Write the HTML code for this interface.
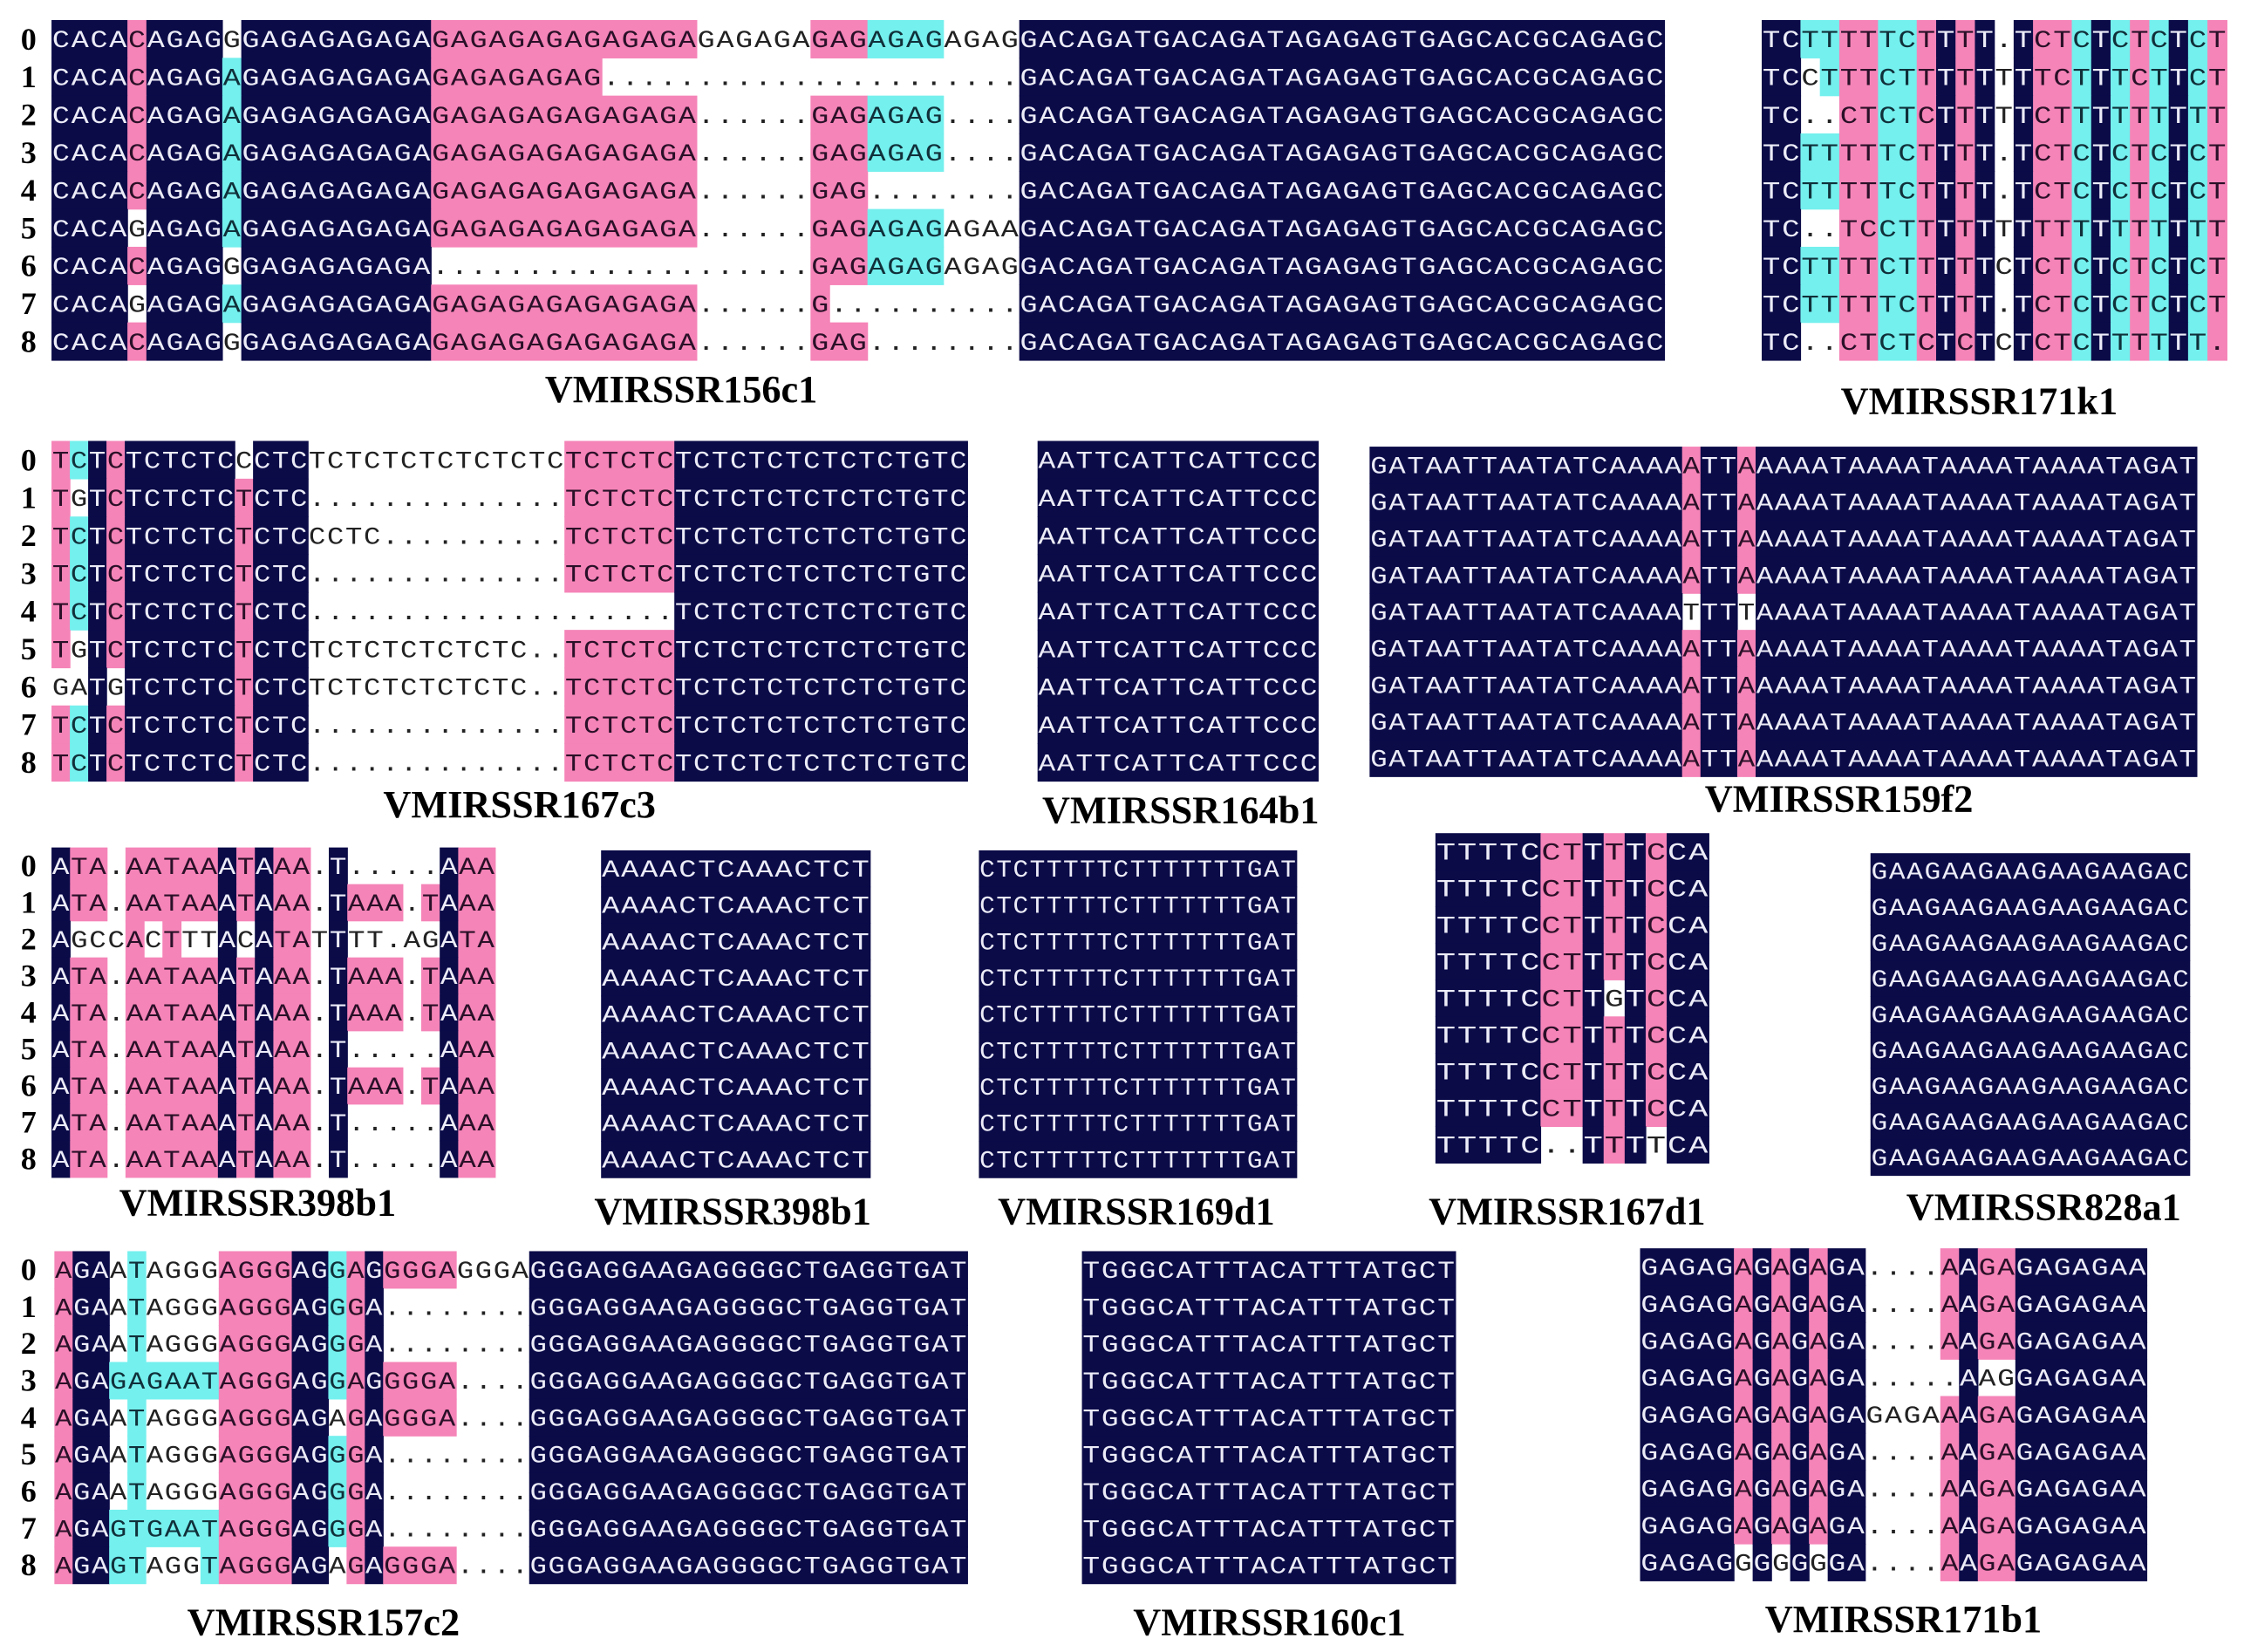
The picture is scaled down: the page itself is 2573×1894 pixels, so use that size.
<!DOCTYPE html>
<html><head><meta charset="utf-8"><style>
html,body{margin:0;padding:0;background:#fff;}
svg{display:block;}
</style></head><body>
<svg id="fig" xmlns="http://www.w3.org/2000/svg" width="2573" height="1894" viewBox="0 0 1568 1154" preserveAspectRatio="none"></svg>
<script>
const NS='http://www.w3.org/2000/svg';
const COL={N:'#0b0b48',P:'#f584b8',C:'#74f0ee',W:'#ffffff'};
const TXT={N:'#ececf8',P:'#2a1028',C:'#10303a',W:'#222222'};
const d=n=>'.'.repeat(n);
const T1='GACAGATGACAGATAGAGAGTGAGCACGCAGAGC';
const T3='TCTCTCTCTCTCTGTC';
const T11='GGGAGGAAGAGGGGCTGAGGTGAT';
function rep(s,n){return Array(n).fill(s);}
const p156=[
`N:CACA P:C N:AGAG W:G N:GAGAGAGAGA P:GAGAGAGAGAGAGA W:GAGAGA P:GAG C:AGAG W:AGAG N:${T1}`,
`N:CACA P:C N:AGAG C:A N:GAGAGAGAGA P:GAGAGAGAG W:${d(22)} N:${T1}`,
`N:CACA P:C N:AGAG C:A N:GAGAGAGAGA P:GAGAGAGAGAGAGA W:${d(6)} P:GAG C:AGAG W:${d(4)} N:${T1}`,
`N:CACA P:C N:AGAG C:A N:GAGAGAGAGA P:GAGAGAGAGAGAGA W:${d(6)} P:GAG C:AGAG W:${d(4)} N:${T1}`,
`N:CACA P:C N:AGAG C:A N:GAGAGAGAGA P:GAGAGAGAGAGAGA W:${d(6)} P:GAG W:${d(8)} N:${T1}`,
`N:CACA W:G N:AGAG C:A N:GAGAGAGAGA P:GAGAGAGAGAGAGA W:${d(6)} P:GAG C:AGAG W:AGAA N:${T1}`,
`N:CACA P:C N:AGAG W:G N:GAGAGAGAGA W:${d(20)} P:GAG C:AGAG W:AGAG N:${T1}`,
`N:CACA W:G N:AGAG C:A N:GAGAGAGAGA P:GAGAGAGAGAGAGA W:${d(6)} P:G W:${d(10)} N:${T1}`,
`N:CACA P:C N:AGAG W:G N:GAGAGAGAGA P:GAGAGAGAGAGAGA W:${d(6)} P:GAG W:${d(8)} N:${T1}`];
const base171='NNCCPPCCPNPNWNPPCNCPCNCP';
const alt171='NNWWPPCCPNPNWNPPCNCPCNCP';
const p171k=[
{t:'TCTTTTTCTTTT.TCTCTCTCTCT',m:base171},
{t:'TCCTTTCTTTTTTTTCTTTCTTCT',m:'NNWCPPCCPNPNWNPPCNCPCNCP'},
{t:'TC..CTCTCTTTTTCTTTTTTTTT',m:alt171},
{t:'TCTTTTTCTTTT.TCTCTCTCTCT',m:base171},
{t:'TCTTTTTCTTTT.TCTCTCTCTCT',m:base171},
{t:'TC..TCCTTTTTTTTTTTTTTTTT',m:alt171},
{t:'TCTTTTCTTTTTCTCTCTCTCTCT',m:base171},
{t:'TCTTTTTCTTTT.TCTCTCTCTCT',m:base171},
{t:'TC..CTCTCTCTCTCTCTTTTTT.',m:alt171}];
const r3a=`P:T C:C N:T P:C N:TCTCTC P:T N:CTC W:${d(14)} P:TCTCTC N:${T3}`;
const p167c=[
`P:T C:C N:T P:C N:TCTCTC W:C N:CTC W:TCTCTCTCTCTCTC P:TCTCTC N:${T3}`,
`P:T W:G N:T P:C N:TCTCTC P:T N:CTC W:${d(14)} P:TCTCTC N:${T3}`,
`P:T C:C N:T P:C N:TCTCTC P:T N:CTC W:CCTC${d(10)} P:TCTCTC N:${T3}`,
r3a,
`P:T C:C N:T P:C N:TCTCTC P:T N:CTC W:${d(20)} N:${T3}`,
`P:T W:G N:T P:C N:TCTCTC P:T N:CTC W:TCTCTCTCTCTC.. P:TCTCTC N:${T3}`,
`W:GA N:T W:G N:TCTCTC P:T N:CTC W:TCTCTCTCTCTC.. P:TCTCTC N:${T3}`,
r3a, r3a];
const p159n=`N:GATAATTAATATCAAAA P:A N:TT P:A N:AAAATAAAATAAAATAAAATAGAT`;
const p159=[p159n,p159n,p159n,p159n,`N:GATAATTAATATCAAAA W:T N:TT W:T N:AAAATAAAATAAAATAAAATAGAT`,p159n,p159n,p159n,p159n];
const q0='N:A P:TA W:. P:AATAA N:A P:T N:A P:AA W:. N:T W:..... N:A P:AA';
const q1='N:A P:TA W:. P:AATAA N:A P:T N:A P:AA W:. N:T P:AAA W:. P:T N:A P:AA';
const p398=[q0,q1,'N:A W:GCC P:A W:C P:T W:TT N:A W:C N:A P:TA W:T N:T W:TT.A W:G N:A P:TA',q1,q1,q0,q1,q0,q0];
const s9='N:TTTTC P:CT N:T P:T N:T P:C N:CA';
const p167d=[s9,s9,s9,s9,'N:TTTTC P:CT N:T W:G N:T P:C N:CA',s9,s9,s9,'N:TTTTC W:.. N:T P:T N:T W:T N:CA'];
const u1=`P:A N:GA W:A C:T W:AGGG P:AGGG N:AG C:G P:G N:A W:${d(8)} N:${T11}`;
const p157=[
`P:A N:GA W:A C:T W:AGGG P:AGGG N:AG C:G P:A N:G P:GGGA W:GGGA N:${T11}`,
u1,u1,
`P:A N:GA C:GAGAAT P:AGGG N:AG C:G P:A N:G P:GGGA W:.... N:${T11}`,
`P:A N:GA W:A C:T W:AGGG P:AGGG N:AG W:A P:G N:A P:GGGA W:.... N:${T11}`,
u1,u1,
`P:A N:GA C:GTGAAT P:AGGG N:AG C:G P:G N:A W:${d(8)} N:${T11}`,
`P:A N:GA C:GT W:AGG C:T P:AGGG N:AG W:A P:G N:A P:GGGA W:.... N:${T11}`];
const b0='N:GAGAG P:A N:G P:A N:G P:A N:GA W:.... P:A N:A P:GA N:GAGAGAA';
const p171b=[b0,b0,b0,'N:GAGAG P:A N:G P:A N:G P:A N:GA W:..... N:A W:AG N:GAGAGAA',
'N:GAGAG P:A N:G P:A N:G P:A N:GA W:GAGA P:A N:A P:GA N:GAGAGAA',b0,b0,b0,
'N:GAGAG W:G N:G W:G N:G W:G N:GA W:.... P:A N:A P:GA N:GAGAGAA'];
const panels=[
{id:'vmirssr156c1',x0:36,x1:1163,y0:14,rh:26.4,rows:p156,lx:476,ly:281,nums:true},
{id:'vmirssr171k1',x0:1231,x1:1556,y0:14,rh:26.4,rows:p171k,lx:1383,ly:289},
{id:'vmirssr167c3',x0:36,x1:676,y0:308,rh:26.4,rows:p167c,lx:363,ly:571,nums:true},
{id:'vmirssr164b1',x0:725,x1:921,y0:308,rh:26.4,rows:rep('N:AATTCATTCATTCCC',9),lx:825,ly:575},
{id:'vmirssr159f2',x0:957,x1:1535,y0:312,rh:25.6,rows:p159,lx:1285,ly:567},
{id:'vmirssr398b1-a',x0:36,x1:346,y0:592,rh:25.6,rows:p398,lx:180,ly:849,nums:true},
{id:'vmirssr398b1-b',x0:420,x1:608,y0:594,rh:25.4,rows:rep('N:AAAACTCAAACTCT',9),lx:512,ly:855},
{id:'vmirssr169d1',x0:684,x1:906,y0:594,rh:25.4,rows:rep('N:CTCTTTTTCTTTTTTTGAT',9),lx:794,ly:855},
{id:'vmirssr167d1',x0:1003,x1:1194,y0:582,rh:25.6,rows:p167d,lx:1095,ly:855},
{id:'vmirssr828a1',x0:1307,x1:1530,y0:596,rh:25,rows:rep('N:GAAGAAGAAGAAGAAGAC',9),lx:1428,ly:852},
{id:'vmirssr157c2',x0:38,x1:676,y0:874,rh:25.8,rows:p157,lx:226,ly:1142,nums:true},
{id:'vmirssr160c1',x0:756,x1:1017,y0:874,rh:25.8,rows:rep('N:TGGGCATTTACATTTATGCT',9),lx:887,ly:1142},
{id:'vmirssr171b1',x0:1146,x1:1500,y0:872,rh:25.8,rows:p171b,lx:1330,ly:1140}];
const labels=['VMIRSSR156c1','VMIRSSR171k1','VMIRSSR167c3','VMIRSSR164b1','VMIRSSR159f2','VMIRSSR398b1','VMIRSSR398b1','VMIRSSR169d1','VMIRSSR167d1','VMIRSSR828a1','VMIRSSR157c2','VMIRSSR160c1','VMIRSSR171b1'];
function parse(r){
  if(typeof r!=='string')return r;
  let t='',m='';
  r.split(' ').forEach(seg=>{const k=seg[0];const s=seg.slice(2);t+=s;m+=k.repeat(s.length);});
  return {t,m};
}
const svg=document.getElementById('fig');
function el(tag,attrs,parent){const e=document.createElementNS(NS,tag);for(const k in attrs)e.setAttribute(k,attrs[k]);parent.appendChild(e);return e;}
panels.forEach((p,pi)=>{
  const g=el('g',{},svg);
  
  
  const rows=p.rows.map(parse);
  const n=Math.max(...rows.map(r=>r.t.length));
  const cw=(p.x1-p.x0)/n;
  rows.forEach((r,ri)=>{
    const y=p.y0+ri*p.rh;
    let i=0;
    while(i<r.m.length){
      let j=i;while(j<r.m.length&&r.m[j]===r.m[i])j++;
      if(r.m[i]!=='W'){
        const rc=el('rect',{x:(p.x0+i*cw).toFixed(2),y:y.toFixed(2),width:((j-i)*cw+0.4).toFixed(2),height:(p.rh+0.4).toFixed(2),fill:COL[r.m[i]]},g);
        
        
      }
      i=j;
    }
    for(let c=0;c<r.t.length;c++){
      const tx=el('text',{x:(p.x0+c*cw+cw*0.04).toFixed(2),y:(y+p.rh*0.72).toFixed(2),'font-family':'"Liberation Mono", monospace','font-size':'17',textLength:(cw*0.92).toFixed(2),lengthAdjust:'spacingAndGlyphs',fill:TXT[r.m[c]]},g);
      
      
      tx.textContent=r.t[c];
    }
    if(p.nums){
      const nt=el('text',{x:'20',y:(y+p.rh*0.78).toFixed(2),'text-anchor':'middle','font-family':'"Liberation Serif", serif','font-weight':'bold','font-size':'22',fill:'#000'},svg);
      
      
      nt.textContent=String(ri);
    }
  });
  const lb=el('text',{x:p.lx,y:p.ly,'text-anchor':'middle','font-family':'"Liberation Serif", serif','font-weight':'bold','font-size':'27',fill:'#000'},svg);
  
  
  lb.textContent=labels[pi];
});
</script>
</body></html>
